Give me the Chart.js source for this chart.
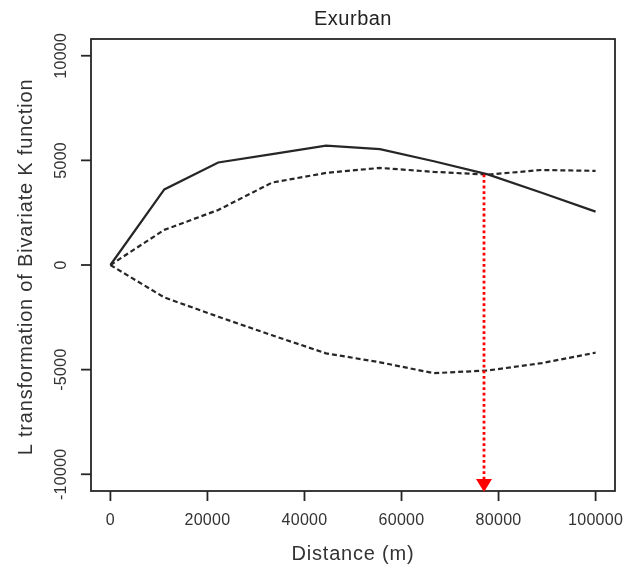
<!DOCTYPE html>
<html>
<head>
<meta charset="utf-8">
<script src="https://cdn.jsdelivr.net/npm/chart.js@4.4.0/dist/chart.umd.min.js"></script>
<style>
html,body{margin:0;padding:0;background:#fff;}
canvas{display:block;}
</style>
</head>
<body>
<canvas id="c" width="633" height="572"></canvas>
<script>
const distances = [0, 11111, 22222, 33333, 44444, 55556, 66667, 77778, 88889, 100000];
const observed = [0, 3610, 4900, 5300, 5700, 5540, 4960, 4330, 3450, 2550];
const upperEnvelope = [0, 1680, 2630, 3940, 4400, 4640, 4450, 4320, 4540, 4500];
const lowerEnvelope = [0, -1550, -2470, -3360, -4220, -4650, -5170, -5040, -4690, -4190];
const xTicks = [0, 20000, 40000, 60000, 80000, 100000];
const yTicks = [-10000, -5000, 0, 5000, 10000];
const arrowX = 77000;
const arrowFromY = 4330;
const titleText = "Exurban";
const xTitle = "Distance (m)";
const yTitle = "L transformation of Bivariate K function";

const toPts = (ys) => distances.map((d, i) => ({x: d, y: ys[i]}));
const FONT = '"Liberation Sans", Arial, Helvetica, sans-serif';
const INK = '#262626';

const rAxes = {
  id: 'rAxes',
  afterDraw(chart) {
    const ctx = chart.ctx;
    const a = chart.chartArea;
    const xs = chart.scales.x, ys = chart.scales.y;
    ctx.save();
    // box
    ctx.strokeStyle = INK;
    ctx.lineWidth = 1.8;
    ctx.strokeRect(a.left, a.top, a.right - a.left, a.bottom - a.top);
    // x ticks
    ctx.fillStyle = '#333';
    ctx.font = '16px ' + FONT;
    ctx.letterSpacing = '0.3px';
    ctx.textAlign = 'center';
    ctx.textBaseline = 'middle';
    xTicks.forEach(v => {
      const px = xs.getPixelForValue(v);
      ctx.beginPath();
      ctx.moveTo(px, a.bottom);
      ctx.lineTo(px, a.bottom + 10);
      ctx.stroke();
      ctx.fillText(String(v), px, a.bottom + 30);
    });
    // y ticks
    yTicks.forEach(v => {
      const py = ys.getPixelForValue(v);
      ctx.beginPath();
      ctx.moveTo(a.left, py);
      ctx.lineTo(a.left - 10, py);
      ctx.stroke();
      ctx.save();
      ctx.translate(a.left - 29, py);
      ctx.rotate(-Math.PI / 2);
      ctx.fillText(String(v), 0, 0);
      ctx.restore();
    });
    // titles
    ctx.font = '20px ' + FONT;
    ctx.letterSpacing = '0.5px';
    ctx.fillStyle = '#222';
    ctx.fillText(titleText, (a.left + a.right) / 2, 19);
    ctx.letterSpacing = '0.8px';
    ctx.fillStyle = '#333';
    ctx.fillText(xTitle, (a.left + a.right) / 2, a.bottom + 63);
    ctx.save();
    ctx.translate(26, (a.top + a.bottom) / 2 + 2);
    ctx.rotate(-Math.PI / 2);
    ctx.fillText(yTitle, 0, 0);
    ctx.restore();
    ctx.letterSpacing = '0px';
    // red arrow
    const ax = xs.getPixelForValue(arrowX);
    const ay = ys.getPixelForValue(arrowFromY);
    const tipY = a.bottom + 1;
    const headH = 13, headW = 8;
    ctx.strokeStyle = '#ff0000';
    ctx.lineWidth = 2.8;
    ctx.setLineDash([2.8, 2.8]);
    ctx.beginPath();
    ctx.moveTo(ax, ay);
    ctx.lineTo(ax, tipY - headH);
    ctx.stroke();
    ctx.setLineDash([]);
    ctx.fillStyle = '#ff0000';
    ctx.beginPath();
    ctx.moveTo(ax - headW, tipY - headH);
    ctx.lineTo(ax + headW, tipY - headH);
    ctx.lineTo(ax, tipY);
    ctx.closePath();
    ctx.fill();
    ctx.restore();
  }
};

new Chart(document.getElementById('c'), {
  type: 'line',
  data: {
    datasets: [
      {data: toPts(observed), borderColor: INK, borderWidth: 2.2, pointRadius: 0, tension: 0, fill: false},
      {data: toPts(upperEnvelope), borderColor: INK, borderWidth: 2.2, borderDash: [5, 3], pointRadius: 0, tension: 0, fill: false},
      {data: toPts(lowerEnvelope), borderColor: INK, borderWidth: 2.2, borderDash: [5, 3], pointRadius: 0, tension: 0, fill: false}
    ]
  },
  options: {
    responsive: false,
    animation: false,
    events: [],
    layout: {padding: {left: 91, right: 18, top: 39, bottom: 81}},
    plugins: {legend: {display: false}, tooltip: {enabled: false}, title: {display: false}},
    scales: {
      x: {type: 'linear', display: false, min: -4000, max: 104000},
      y: {type: 'linear', display: false, min: -10800, max: 10800}
    }
  },
  plugins: [rAxes]
});
</script>
</body>
</html>
